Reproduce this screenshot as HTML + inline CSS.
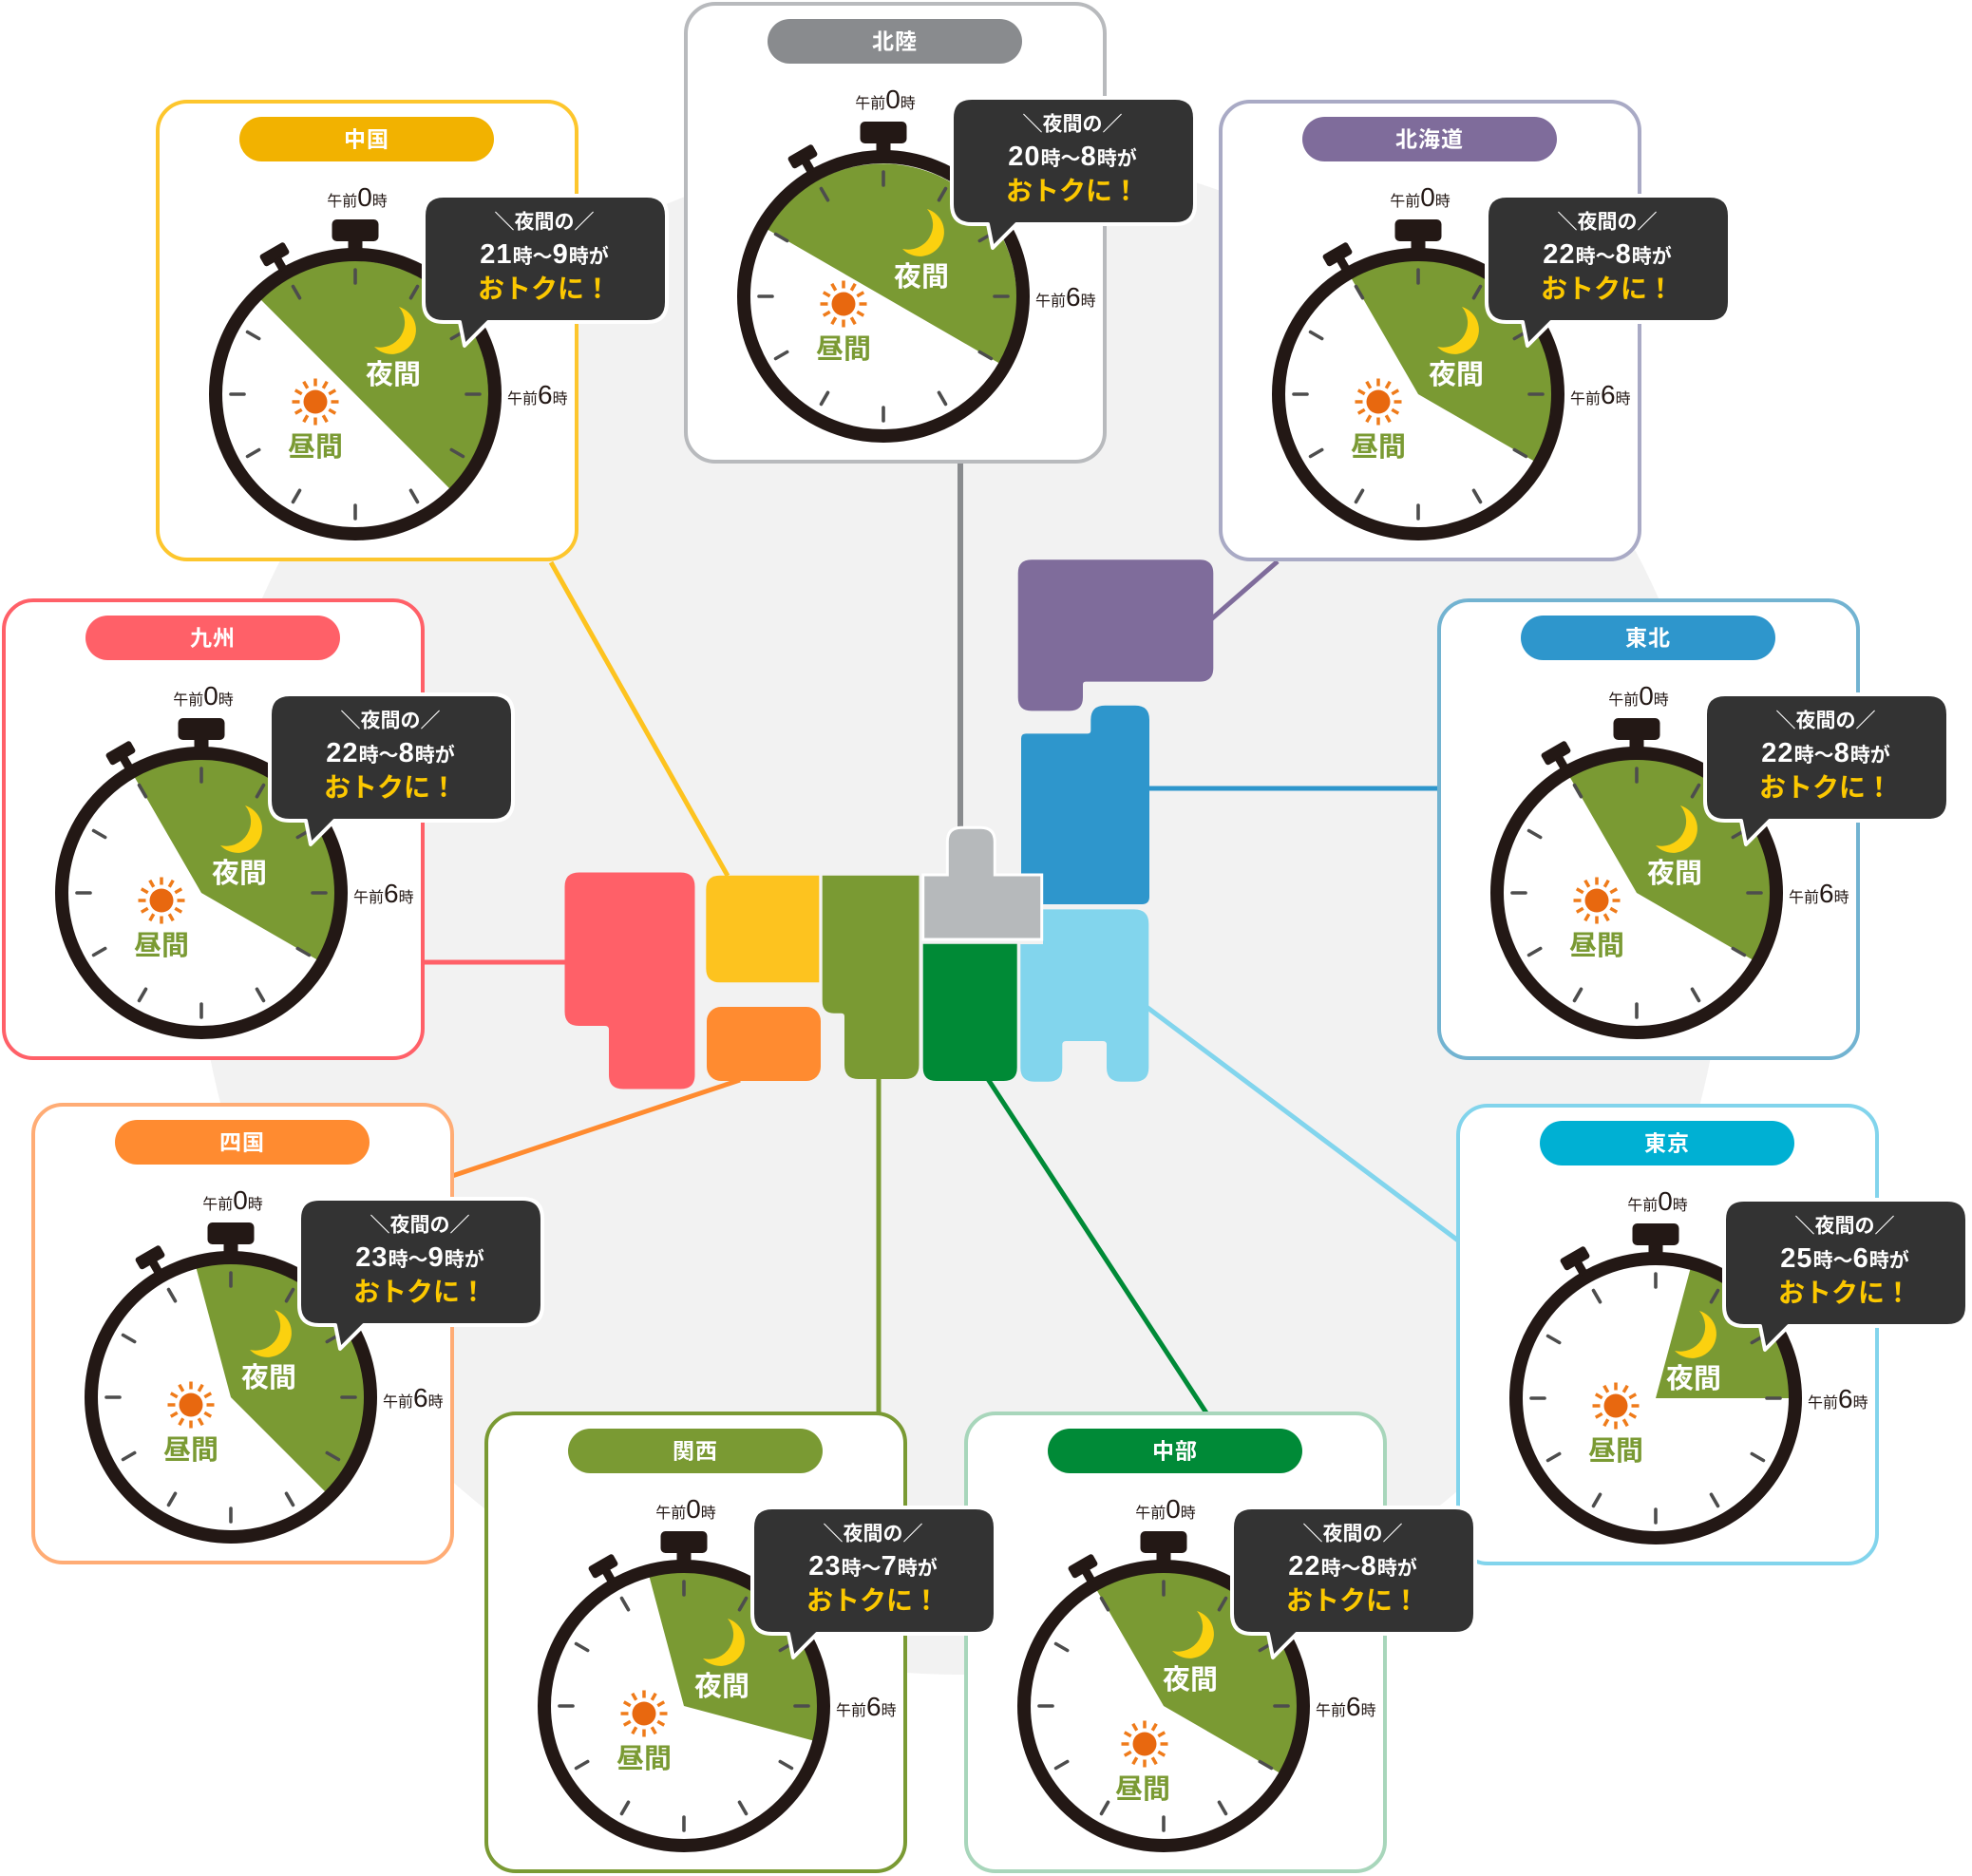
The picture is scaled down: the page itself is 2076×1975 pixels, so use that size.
<!DOCTYPE html>
<html lang="ja">
<head>
<meta charset="utf-8">
<style>
html,body{margin:0;padding:0;background:#fff;}
body{width:2076px;height:1975px;overflow:hidden;}
svg{display:block;}
text{font-family:"Liberation Sans","Noto Sans CJK JP",sans-serif;}
.pill{font-size:23px;font-weight:700;fill:#fff;text-anchor:middle;dominant-baseline:central;letter-spacing:1px;}
.yk{font-size:29px;font-weight:700;fill:#fff;text-anchor:middle;dominant-baseline:central;}
.hr{font-size:29px;font-weight:700;fill:#7a9a33;text-anchor:middle;dominant-baseline:central;}
.tm{font-size:16px;fill:#231815;}
.tm .d{font-size:28px;}
.t0{text-anchor:middle;}
.b1{font-size:21px;font-weight:700;fill:#fff;text-anchor:middle;dominant-baseline:central;}
.b2{font-size:21px;font-weight:700;fill:#fff;text-anchor:middle;}
.b2 .d{font-size:29px;letter-spacing:1px;}
.b3{font-size:28px;font-weight:700;fill:#fcc800;text-anchor:middle;dominant-baseline:central;}
</style>
</head>
<body>
<svg width="2076" height="1975" viewBox="0 0 2076 1975" xmlns="http://www.w3.org/2000/svg" xmlns:xlink="http://www.w3.org/1999/xlink">
<defs>
  <line id="tick" x1="0" y1="-117" x2="0" y2="-131"/>
  <g id="watch">
    <g stroke="#4d4d4d" stroke-width="3.6" stroke-linecap="round">
      <use href="#tick"/>
      <use href="#tick" transform="rotate(30)"/>
      <use href="#tick" transform="rotate(60)"/>
      <use href="#tick" transform="rotate(90)"/>
      <use href="#tick" transform="rotate(120)"/>
      <use href="#tick" transform="rotate(150)"/>
      <use href="#tick" transform="rotate(180)"/>
      <use href="#tick" transform="rotate(210)"/>
      <use href="#tick" transform="rotate(240)"/>
      <use href="#tick" transform="rotate(270)"/>
      <use href="#tick" transform="rotate(300)"/>
      <use href="#tick" transform="rotate(330)"/>
    </g>
    <circle r="147" fill="none" stroke="#231815" stroke-width="14"/>
    <rect x="-24.5" y="-184" width="49" height="23" rx="5" fill="#231815"/>
    <rect x="-7.5" y="-163" width="15" height="14" fill="#231815"/>
    <g transform="rotate(-30)">
      <rect x="-15" y="-177" width="30" height="14" rx="3" fill="#231815"/>
      <rect x="-4.5" y="-165" width="9" height="14" fill="#231815"/>
    </g>
  </g>
  <line id="ray" x1="0" y1="-16.5" x2="0" y2="-24.5"/>
  <g id="sun">
    <g stroke="#ef7b1a" stroke-width="3.5">
      <use href="#ray"/>
      <use href="#ray" transform="rotate(30)"/>
      <use href="#ray" transform="rotate(60)"/>
      <use href="#ray" transform="rotate(90)"/>
      <use href="#ray" transform="rotate(120)"/>
      <use href="#ray" transform="rotate(150)"/>
      <use href="#ray" transform="rotate(180)"/>
      <use href="#ray" transform="rotate(210)"/>
      <use href="#ray" transform="rotate(240)"/>
      <use href="#ray" transform="rotate(270)"/>
      <use href="#ray" transform="rotate(300)"/>
      <use href="#ray" transform="rotate(330)"/>
    </g>
    <circle r="12.5" fill="#e8680f"/>
  </g>
  <path id="moon" d="M46,-92 A25.5,25.5 0 1,1 20,-50 A26,26 0 0,0 46,-92 Z" fill="#fbd10f"/>
  <path id="bubble" d="M303,101 H517 Q538,101 538,122 V213 Q538,234 517,234 H350 L325,259 L320,234 H303 Q282,234 282,213 V122 Q282,101 303,101 Z" fill="#333333" stroke="#ffffff" stroke-width="4" stroke-linejoin="round"/>
</defs>

<!-- background blob -->
<circle cx="1011" cy="958" r="805" fill="#f2f2f2"/>

<!-- connectors -->
<g stroke-width="5" fill="none">
  <line x1="580" y1="592" x2="766" y2="922" stroke="#fdc31f"/>
  <line x1="1011" y1="488" x2="1011" y2="873" stroke="#898b8e" stroke-width="6"/>
  <line x1="1345" y1="591" x2="1275" y2="652" stroke="#7f6c9b"/>
  <line x1="447" y1="1013" x2="597" y2="1013" stroke="#ff6068"/>
  <line x1="1208" y1="830" x2="1516" y2="830" stroke="#2e96cc"/>
  <line x1="476" y1="1238" x2="779" y2="1137" stroke="#ff8b30"/>
  <line x1="1207" y1="1060" x2="1535" y2="1306" stroke="#82d5ed"/>
  <line x1="925" y1="1134" x2="925" y2="1489" stroke="#7a9a33"/>
  <line x1="1040" y1="1136" x2="1271" y2="1489" stroke="#008a37"/>
</g>

<!-- map -->
<path d="M609.5,918.5 H716.5 Q731.5,918.5 731.5,933.5 V1131.5 Q731.5,1146.5 716.5,1146.5 H656 Q641,1146.5 641,1131.5 V1084 Q641,1080 637,1080 H609.5 Q594.5,1080 594.5,1065 V933.5 Q594.5,918.5 609.5,918.5 Z" fill="#ff6068"/>
<path d="M758,921.7 H862.3 V1034.3 H758 Q743.3,1034.3 743.3,1019.5 V936.5 Q743.3,921.7 758,921.7 Z" fill="#fdc31f"/>
<rect x="744" y="1060" width="120" height="78" rx="15" fill="#ff8b30"/>
<path d="M865.7,921.7 H967.5 V1121 Q967.5,1136 952.5,1136 H904 Q889,1136 889,1121 V1070 Q889,1066.7 885.7,1066.7 H878 Q865.7,1066.7 865.7,1054 Z" fill="#7a9a33"/>
<path d="M1080,772.4 H1145 Q1148.3,772.4 1148.3,769 V757.8 Q1148.3,742.8 1163.3,742.8 H1195 Q1210,742.8 1210,757.8 V944 Q1210,952 1202,952 H1075 V777.4 Q1075,772.4 1080,772.4 Z" fill="#2e96cc"/>
<path d="M1074.3,994 H1098 V957.4 H1194 Q1209.3,957.4 1209.3,972.7 V1124 Q1209.3,1138.7 1194.5,1138.7 H1180 Q1165,1138.7 1165,1124 V1100 Q1165,1096 1161,1096 H1122.3 Q1118.3,1096 1118.3,1100 V1124 Q1118.3,1138.7 1103.5,1138.7 H1089 Q1074.3,1138.7 1074.3,1124 Z" fill="#82d5ed"/>
<path d="M971.7,993.7 H1070.7 V1124 Q1070.7,1138 1056.7,1138 H985.7 Q971.7,1138 971.7,1124 Z" fill="#008a36"/>
<path d="M971.7,921 H997.3 V886 Q997.3,871.2 1012,871.2 H1032.5 Q1047.3,871.2 1047.3,886 V921 H1096.7 V989 H971.7 Z" fill="#b6b9bb" stroke="#ffffff" stroke-width="3"/>
<path d="M1086,589.3 H1263 Q1277.3,589.3 1277.3,603.6 V703.3 Q1277.3,717.6 1263,717.6 H1143 Q1140,717.6 1140,720.6 V734 Q1140,748.4 1125.7,748.4 H1086 Q1071.7,748.4 1071.7,734 V603.6 Q1071.7,589.3 1086,589.3 Z" fill="#7f6c9b"/>

<!-- ===== CARDS ===== -->
<!-- 中国 -->
<g transform="translate(164,105)">
  <rect x="2" y="2" width="441" height="482" rx="31" fill="#fff" stroke="#fdc62d" stroke-width="4"/>
  <rect x="88" y="18" width="268" height="47" rx="23.5" fill="#f2b200"/>
  <text class="pill" x="222" y="41.5">中国</text>
  <g transform="translate(210,310)">
    <path d="M0,0 L-99.7,-99.7 A141,141 0 0,1 99.7,99.7 Z" fill="#7a9a33"/>
    <use href="#watch"/>
    <use href="#moon"/>
    <use href="#sun" transform="translate(-42,8)"/>
    <text class="yk" x="40" y="-20">夜間</text>
    <text class="hr" x="-42" y="56">昼間</text>
    <text class="tm t0" x="2" y="-198">午前<tspan class="d">0</tspan>時</text>
    <text class="tm" x="160" y="10">午前<tspan class="d">6</tspan>時</text>
  </g>
</g>
<!-- 北陸 -->
<g transform="translate(720,2)">
  <rect x="2" y="2" width="441" height="482" rx="31" fill="#fff" stroke="#b8babd" stroke-width="4"/>
  <rect x="88" y="18" width="268" height="47" rx="23.5" fill="#898b8e"/>
  <text class="pill" x="222" y="41.5">北陸</text>
  <g transform="translate(210,310)">
    <path d="M0,0 L-122.1,-70.5 A141,141 0 0,1 122.1,70.5 Z" fill="#7a9a33"/>
    <use href="#watch"/>
    <use href="#moon"/>
    <use href="#sun" transform="translate(-42,8)"/>
    <text class="yk" x="40" y="-20">夜間</text>
    <text class="hr" x="-42" y="56">昼間</text>
    <text class="tm t0" x="2" y="-198">午前<tspan class="d">0</tspan>時</text>
    <text class="tm" x="160" y="10">午前<tspan class="d">6</tspan>時</text>
  </g>
</g>
<!-- 北海道 -->
<g transform="translate(1283,105)">
  <rect x="2" y="2" width="441" height="482" rx="31" fill="#fff" stroke="#a9aac5" stroke-width="4"/>
  <rect x="88" y="18" width="268" height="47" rx="23.5" fill="#7f6c9b"/>
  <text class="pill" x="222" y="41.5">北海道</text>
  <g transform="translate(210,310)">
    <path d="M0,0 L-70.5,-122.1 A141,141 0 0,1 122.1,70.5 Z" fill="#7a9a33"/>
    <use href="#watch"/>
    <use href="#moon"/>
    <use href="#sun" transform="translate(-42,8)"/>
    <text class="yk" x="40" y="-20">夜間</text>
    <text class="hr" x="-42" y="56">昼間</text>
    <text class="tm t0" x="2" y="-198">午前<tspan class="d">0</tspan>時</text>
    <text class="tm" x="160" y="10">午前<tspan class="d">6</tspan>時</text>
  </g>
</g>
<!-- 九州 -->
<g transform="translate(2,630)">
  <rect x="2" y="2" width="441" height="482" rx="31" fill="#fff" stroke="#ff6068" stroke-width="4"/>
  <rect x="88" y="18" width="268" height="47" rx="23.5" fill="#ff6068"/>
  <text class="pill" x="222" y="41.5">九州</text>
  <g transform="translate(210,310)">
    <path d="M0,0 L-70.5,-122.1 A141,141 0 0,1 122.1,70.5 Z" fill="#7a9a33"/>
    <use href="#watch"/>
    <use href="#moon"/>
    <use href="#sun" transform="translate(-42,8)"/>
    <text class="yk" x="40" y="-20">夜間</text>
    <text class="hr" x="-42" y="56">昼間</text>
    <text class="tm t0" x="2" y="-198">午前<tspan class="d">0</tspan>時</text>
    <text class="tm" x="160" y="10">午前<tspan class="d">6</tspan>時</text>
  </g>
</g>
<!-- 東北 -->
<g transform="translate(1513,630)">
  <rect x="2" y="2" width="441" height="482" rx="31" fill="#fff" stroke="#72b3d1" stroke-width="4"/>
  <rect x="88" y="18" width="268" height="47" rx="23.5" fill="#2e96cc"/>
  <text class="pill" x="222" y="41.5">東北</text>
  <g transform="translate(210,310)">
    <path d="M0,0 L-70.5,-122.1 A141,141 0 0,1 122.1,70.5 Z" fill="#7a9a33"/>
    <use href="#watch"/>
    <use href="#moon"/>
    <use href="#sun" transform="translate(-42,8)"/>
    <text class="yk" x="40" y="-20">夜間</text>
    <text class="hr" x="-42" y="56">昼間</text>
    <text class="tm t0" x="2" y="-198">午前<tspan class="d">0</tspan>時</text>
    <text class="tm" x="160" y="10">午前<tspan class="d">6</tspan>時</text>
  </g>
</g>
<!-- 四国 -->
<g transform="translate(33,1161)">
  <rect x="2" y="2" width="441" height="482" rx="31" fill="#fff" stroke="#ffac75" stroke-width="4"/>
  <rect x="88" y="18" width="268" height="47" rx="23.5" fill="#ff8b30"/>
  <text class="pill" x="222" y="41.5">四国</text>
  <g transform="translate(210,310)">
    <path d="M0,0 L-36.5,-136.2 A141,141 0 0,1 99.7,99.7 Z" fill="#7a9a33"/>
    <use href="#watch"/>
    <use href="#moon"/>
    <use href="#sun" transform="translate(-42,8)"/>
    <text class="yk" x="40" y="-20">夜間</text>
    <text class="hr" x="-42" y="56">昼間</text>
    <text class="tm t0" x="2" y="-198">午前<tspan class="d">0</tspan>時</text>
    <text class="tm" x="160" y="10">午前<tspan class="d">6</tspan>時</text>
  </g>
</g>
<!-- 東京 -->
<g transform="translate(1533,1162)">
  <rect x="2" y="2" width="441" height="482" rx="31" fill="#fff" stroke="#82d4ec" stroke-width="4"/>
  <rect x="88" y="18" width="268" height="47" rx="23.5" fill="#00b0d3"/>
  <text class="pill" x="222" y="41.5">東京</text>
  <g transform="translate(210,310)">
    <path d="M0,0 L36.5,-136.2 A141,141 0 0,1 141,0 Z" fill="#7a9a33"/>
    <use href="#watch"/>
    <use href="#moon"/>
    <use href="#sun" transform="translate(-42,8)"/>
    <text class="yk" x="40" y="-20">夜間</text>
    <text class="hr" x="-42" y="56">昼間</text>
    <text class="tm t0" x="2" y="-198">午前<tspan class="d">0</tspan>時</text>
    <text class="tm" x="160" y="10">午前<tspan class="d">6</tspan>時</text>
  </g>
</g>
<!-- 関西 -->
<g transform="translate(510,1486)">
  <rect x="2" y="2" width="441" height="482" rx="31" fill="#fff" stroke="#7a9a33" stroke-width="4"/>
  <rect x="88" y="18" width="268" height="47" rx="23.5" fill="#7a9a33"/>
  <text class="pill" x="222" y="41.5">関西</text>
  <g transform="translate(210,310)">
    <path d="M0,0 L-36.5,-136.2 A141,141 0 0,1 136.2,36.5 Z" fill="#7a9a33"/>
    <use href="#watch"/>
    <use href="#moon"/>
    <use href="#sun" transform="translate(-42,8)"/>
    <text class="yk" x="40" y="-20">夜間</text>
    <text class="hr" x="-42" y="56">昼間</text>
    <text class="tm t0" x="2" y="-198">午前<tspan class="d">0</tspan>時</text>
    <text class="tm" x="160" y="10">午前<tspan class="d">6</tspan>時</text>
  </g>
</g>
<!-- 中部 -->
<g transform="translate(1015,1486)">
  <rect x="2" y="2" width="441" height="482" rx="31" fill="#fff" stroke="#a8d6bb" stroke-width="4"/>
  <rect x="88" y="18" width="268" height="47" rx="23.5" fill="#008a37"/>
  <text class="pill" x="222" y="41.5">中部</text>
  <g transform="translate(210,310)">
    <path d="M0,0 L-70.5,-122.1 A141,141 0 0,1 122.1,70.5 Z" fill="#7a9a33"/>
    <use href="#watch"/>
    <use href="#moon" transform="translate(-11,-8)"/>
    <use href="#sun" transform="translate(-20,40)"/>
    <text class="yk" x="28" y="-27">夜間</text>
    <text class="hr" x="-22" y="88">昼間</text>
    <text class="tm t0" x="2" y="-198">午前<tspan class="d">0</tspan>時</text>
    <text class="tm" x="160" y="10">午前<tspan class="d">6</tspan>時</text>
  </g>
</g>

<!-- ===== BUBBLES ===== -->
<g transform="translate(164,105)">
  <use href="#bubble"/>
  <text class="b1" x="409" y="129">＼夜間の／</text>
  <text class="b2" x="409" y="172"><tspan class="d">21</tspan>時〜<tspan class="d">9</tspan>時が</text>
  <text class="b3" x="409" y="199">おトクに！</text>
</g>
<g transform="translate(720,2)">
  <use href="#bubble"/>
  <text class="b1" x="409" y="129">＼夜間の／</text>
  <text class="b2" x="409" y="172"><tspan class="d">20</tspan>時〜<tspan class="d">8</tspan>時が</text>
  <text class="b3" x="409" y="199">おトクに！</text>
</g>
<g transform="translate(1283,105)">
  <use href="#bubble"/>
  <text class="b1" x="409" y="129">＼夜間の／</text>
  <text class="b2" x="409" y="172"><tspan class="d">22</tspan>時〜<tspan class="d">8</tspan>時が</text>
  <text class="b3" x="409" y="199">おトクに！</text>
</g>
<g transform="translate(2,630)">
  <use href="#bubble"/>
  <text class="b1" x="409" y="129">＼夜間の／</text>
  <text class="b2" x="409" y="172"><tspan class="d">22</tspan>時〜<tspan class="d">8</tspan>時が</text>
  <text class="b3" x="409" y="199">おトクに！</text>
</g>
<g transform="translate(1513,630)">
  <use href="#bubble"/>
  <text class="b1" x="409" y="129">＼夜間の／</text>
  <text class="b2" x="409" y="172"><tspan class="d">22</tspan>時〜<tspan class="d">8</tspan>時が</text>
  <text class="b3" x="409" y="199">おトクに！</text>
</g>
<g transform="translate(33,1161)">
  <use href="#bubble"/>
  <text class="b1" x="409" y="129">＼夜間の／</text>
  <text class="b2" x="409" y="172"><tspan class="d">23</tspan>時〜<tspan class="d">9</tspan>時が</text>
  <text class="b3" x="409" y="199">おトクに！</text>
</g>
<g transform="translate(1533,1162)">
  <use href="#bubble"/>
  <text class="b1" x="409" y="129">＼夜間の／</text>
  <text class="b2" x="409" y="172"><tspan class="d">25</tspan>時〜<tspan class="d">6</tspan>時が</text>
  <text class="b3" x="409" y="199">おトクに！</text>
</g>
<g transform="translate(1015,1486)">
  <use href="#bubble"/>
  <text class="b1" x="409" y="129">＼夜間の／</text>
  <text class="b2" x="409" y="172"><tspan class="d">22</tspan>時〜<tspan class="d">8</tspan>時が</text>
  <text class="b3" x="409" y="199">おトクに！</text>
</g>
<g transform="translate(510,1486)">
  <use href="#bubble"/>
  <text class="b1" x="409" y="129">＼夜間の／</text>
  <text class="b2" x="409" y="172"><tspan class="d">23</tspan>時〜<tspan class="d">7</tspan>時が</text>
  <text class="b3" x="409" y="199">おトクに！</text>
</g>
</svg>
</body>
</html>
